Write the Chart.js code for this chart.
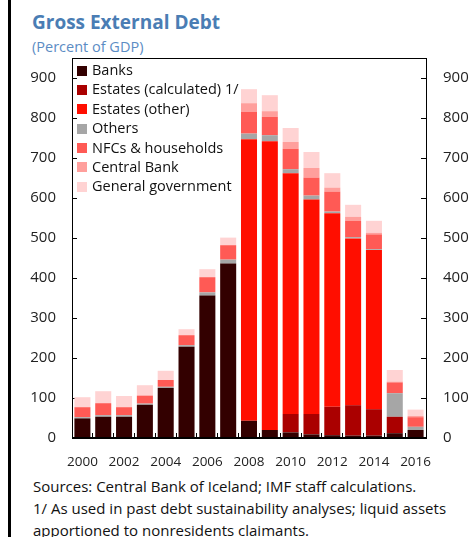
<!DOCTYPE html>
<html lang="en">
<head>
    <meta charset="UTF-8">
    <title>Gross External Debt</title>
    <script src="https://cdn.jsdelivr.net/npm/chart.js"></script>
    <style>
        body { margin: 0; background: #fff; font-family: "Open Sans", sans-serif; }
        #page { position: relative; width: 476px; height: 537px; overflow: hidden; }
        #edge { position: absolute; left: 8px; top: 0; width: 3px; height: 537px; background: #000; }
        #title { position: absolute; left: 32px; top: 9px; font-size: 19px; font-weight: bold; color: #4a7db4; }
        #subtitle { position: absolute; left: 32px; top: 37px; font-size: 14.5px; color: #5b8cc4; }
        #chartBox { position: absolute; left: 0; top: 0; width: 476px; height: 470px; }
        #legend { position: absolute; left: 77px; top: 60px; font-size: 14.5px; color: #111; }
        #legend div { height: 19.4px; line-height: 19.4px; white-space: nowrap; }
        #legend span { display: inline-block; width: 10px; height: 10px; margin-right: 5px; vertical-align: -0.5px; }
        #notes { position: absolute; left: 33px; top: 475px; font-size: 15px; line-height: 22px; color: #111; }
    </style>
</head>
<body>
<div id="page">
    <div id="edge"></div>
    <div id="title">Gross External Debt</div>
    <div id="subtitle">(Percent of GDP)</div>
    <div id="chartBox"><canvas id="debtChart"></canvas></div>
    <div id="legend"></div>
    <div id="notes">
        Sources: Central Bank of Iceland; IMF staff calculations.<br>
        1/ As used in past debt sustainability analyses; liquid assets<br>
        apportioned to nonresidents claimants.
    </div>
</div>
<script>
    // years on the x axis
    const years = ['2000', '2001', '2002', '2003', '2004', '2005', '2006', '2007', '2008',
                   '2009', '2010', '2011', '2012', '2013', '2014', '2015', '2016'];

    // stacked components, percent of GDP
    const banks        = [49, 53, 53, 83, 125, 228, 356, 436, 43, 20, 14, 9, 7, 6, 6, 12, 20];
    const estatesCalc  = [0, 0, 0, 0, 0, 0, 0, 0, 0, 0, 46, 51, 71, 76, 66, 41, 0];
    const estatesOther = [0, 0, 0, 0, 0, 0, 0, 0, 704, 722, 602, 536, 484, 417, 398, 0, 0];
    const others       = [3, 4, 4, 3, 3, 4, 8, 10, 14, 15, 10, 10, 4, 3, 2, 59, 8];
    const nfcs         = [25, 30, 20, 20, 17, 25, 38, 36, 54, 46, 51, 45, 50, 41, 37, 27, 24];
    const centralBank  = [0, 0, 0, 0, 0, 0, 0, 0, 22, 14, 17, 24, 10, 10, 4, 2, 3];
    const generalGov   = [25, 30, 28, 26, 23, 15, 20, 19, 35, 40, 35, 40, 36, 30, 30, 29, 16];

    const yTicks = [0, 100, 200, 300, 400, 500, 600, 700, 800, 900];

    const font = 'Open Sans';

    function series(label, data, color) {
        return { label: label, data: data, backgroundColor: color, borderWidth: 0,
                 barPercentage: 0.77, categoryPercentage: 1.0 };
    }

    // box around the plot area
    const frame = {
        id: 'frame',
        afterDraw(chart) {
            const a = chart.chartArea;
            const ctx = chart.ctx;
            ctx.save();
            ctx.strokeStyle = '#000';
            ctx.lineWidth = 1;
            ctx.strokeRect(Math.round(a.left) + 0.5, Math.round(a.top) + 0.5,
                           Math.round(a.right - a.left), Math.round(a.bottom - a.top) - 1);
            ctx.restore();
        }
    };

    function yAxis(position, width, pad) {
        return {
            position: position,
            stacked: true,
            min: 0,
            max: 950,
            afterBuildTicks: s => { s.ticks = s.ticks.filter(t => yTicks.includes(t.value)); },
            afterFit: s => { s.width = width; },
            grid: { drawOnChartArea: false, tickLength: -5, color: '#000' },
            border: { color: '#000' },
            ticks: { stepSize: 100, padding: pad, color: '#222', font: { family: font, size: 15 } }
        };
    }

    const chart = new Chart(document.getElementById('debtChart'), {
        type: 'bar',
        data: {
            labels: years,
            datasets: [
                series('Banks', banks, '#330000'),
                series('Estates (calculated) 1/', estatesCalc, '#aa0000'),
                series('Estates (other)', estatesOther, '#ff0e00'),
                series('Others', others, '#a6a6a6'),
                series('NFCs & households', nfcs, '#ff5a55'),
                series('Central Bank', centralBank, '#ff9f9c'),
                series('General government', generalGov, '#ffd3d3')
            ]
        },
        options: {
            responsive: true,
            maintainAspectRatio: false,
            animation: false,
            layout: { padding: { top: 58, left: 0, right: 0, bottom: 0 } },
            plugins: {
                legend: { display: false },
                tooltip: { enabled: false }
            },
            scales: {
                x: {
                    stacked: true,
                    afterFit: s => { s.height = 32; },
                    grid: { drawOnChartArea: false, offset: true, tickLength: -5, color: '#000' },
                    border: { color: '#000' },
                    ticks: {
                        autoSkip: false, maxRotation: 0, padding: 21, color: '#222',
                        font: { family: font, size: 13.5 },
                        callback: function(v, i) { return i % 2 === 0 ? years[i] : ''; }
                    }
                },
                y: yAxis('left', 72, 21),
                y2: yAxis('right', 50, 22)
            }
        },
        plugins: [frame]
    });

    // legend inside the plot, built from the chart's datasets
    const legendBox = document.getElementById('legend');
    chart.data.datasets.forEach(ds => {
        const row = document.createElement('div');
        const swatch = document.createElement('span');
        swatch.style.background = ds.backgroundColor;
        row.appendChild(swatch);
        row.appendChild(document.createTextNode(ds.label));
        legendBox.appendChild(row);
    });
</script>
</body>
</html>
